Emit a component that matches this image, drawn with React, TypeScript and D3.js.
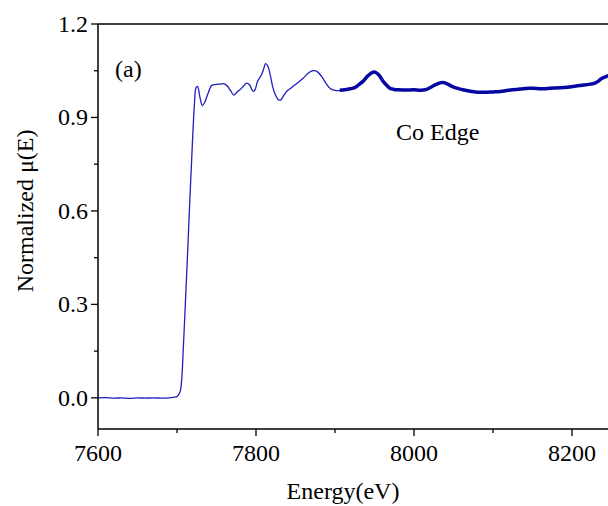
import React from "react";
import * as d3 from "d3";

const xTicks = [7600, 7800, 8000, 8200];
const xMinorTicks = [7700, 7900, 8100, 8300];
const yTicks = [0.0, 0.3, 0.6, 0.9, 1.2];
const yMinorTicks = [0.15, 0.45, 0.75, 1.05];

// thin segment (energy, normalized mu)
const thinE = [7600, 7610, 7620, 7630, 7640, 7650, 7660, 7670, 7680, 7690, 7696, 7700, 7702, 7704, 7706, 7708, 7710, 7713, 7716, 7719, 7722, 7724, 7726, 7729, 7732, 7735, 7739, 7744, 7750, 7755, 7760, 7764, 7768, 7772, 7776, 7780, 7784, 7788, 7792, 7795, 7797, 7799, 7802, 7807, 7810, 7812, 7815, 7818, 7821, 7824, 7828, 7831, 7835, 7839, 7843, 7847, 7852, 7860, 7866, 7872, 7877, 7883, 7888, 7892, 7896, 7900, 7904, 7908];
const thinMu = [0.0, 0.001, -0.001, 0.0, -0.002, 0.0, -0.001, 0.0, -0.001, 0.0, 0.002, 0.004, 0.01, 0.02, 0.06, 0.16, 0.27, 0.44, 0.62, 0.79, 0.94, 0.995, 1.0, 0.965, 0.938, 0.948, 0.975, 1.003, 1.006, 1.007, 1.008, 1.0, 0.985, 0.972, 0.982, 0.99, 1.0, 1.01, 1.004, 0.988, 0.984, 0.99, 1.016, 1.037, 1.058, 1.073, 1.065, 1.037, 1.0, 0.976, 0.958, 0.956, 0.97, 0.984, 0.992, 1.0, 1.01, 1.027, 1.042, 1.05, 1.048, 1.032, 1.012, 0.998, 0.99, 0.987, 0.986, 0.987];

// thick segment
const thickE = [7906, 7912, 7919, 7925, 7929, 7935, 7941, 7946, 7950, 7955, 7961, 7966, 7970, 7975, 7980, 7990, 8000, 8008, 8016, 8022, 8028, 8033, 8037, 8042, 8048, 8054, 8062, 8071, 8080, 8092, 8100, 8109, 8122, 8134, 8145, 8155, 8165, 8172, 8185, 8197, 8205, 8215, 8223, 8229, 8233, 8237, 8241, 8246, 8252];
const thickMu = [0.987, 0.989, 0.992, 0.996, 1.003, 1.015, 1.032, 1.043, 1.046, 1.038, 1.016, 1.002, 0.993, 0.99, 0.989, 0.988, 0.989, 0.987, 0.99, 0.998, 1.006, 1.011, 1.012, 1.008, 1.0, 0.994, 0.989, 0.984, 0.981, 0.981, 0.982, 0.983, 0.988, 0.991, 0.994, 0.993, 0.992, 0.994, 0.995, 0.998, 1.001, 1.004, 1.007, 1.01, 1.016, 1.024, 1.029, 1.034, 1.038];

const W = 608;
const H = 506;
const FONT = '"Liberation Serif", "Times New Roman", Times, serif';
const textStyle: React.CSSProperties = { fontFamily: FONT, fontSize: "24px", fill: "#000" };

export default function App() {
  const x = d3.scaleLinear().domain([7600, 8300]).range([98, 651]);
  const y = d3.scaleLinear().domain([-0.1, 1.2]).range([429, 24]);

  const mk = (es: number[], ms: number[]) =>
    d3
      .line<[number, number]>()
      .x((d) => x(d[0]))
      .y((d) => y(d[1]))
      .curve(d3.curveCatmullRom.alpha(0.5))(es.map((e, i) => [e, ms[i]] as [number, number])) || "";

  const thinPath = mk(thinE, thinMu);
  const thickPath = mk(thickE, thickMu);

  const left = x(7600);
  const bottom = y(-0.1);
  const top = y(1.2);

  return (
    <div style={{ position: "absolute", left: 0, top: 0 }}>
      <svg width={W} height={H} style={{ display: "block", background: "#fff" }}>
        <defs>
          <clipPath id="plotclip">
            <rect x={left} y={top} width={W - left} height={bottom - top} />
          </clipPath>
        </defs>
        <g clipPath="url(#plotclip)">
          <path d={thinPath} fill="none" stroke="#2020bc" strokeWidth={1.3} />
          <path d={thickPath} fill="none" stroke="#0606a2" strokeWidth={3.5} strokeLinejoin="round" />
        </g>
        {/* frame */}
        <line x1={left} x2={W} y1={top} y2={top} stroke="#000" strokeWidth={1.5} />
        <line x1={left} x2={left} y1={top} y2={bottom} stroke="#000" strokeWidth={1.5} />
        <line x1={left} x2={W} y1={bottom} y2={bottom} stroke="#000" strokeWidth={1.5} />
        {/* x ticks */}
        {xTicks.map((t) => (
          <g key={"xt" + t}>
            <line x1={x(t)} x2={x(t)} y1={bottom} y2={bottom + 7} stroke="#000" strokeWidth={1.3} />
            <text x={x(t)} y={461} textAnchor="middle" style={textStyle}>
              {t}
            </text>
          </g>
        ))}
        {xMinorTicks.map((t) => (
          <line key={"xm" + t} x1={x(t)} x2={x(t)} y1={bottom} y2={bottom + 4} stroke="#000" strokeWidth={1.3} />
        ))}
        {/* y ticks */}
        {yTicks.map((t) => (
          <g key={"yt" + t}>
            <line x1={left - 7} x2={left} y1={y(t)} y2={y(t)} stroke="#000" strokeWidth={1.3} />
            <text x={left - 10} y={y(t) + 8} textAnchor="end" style={textStyle}>
              {t.toFixed(1)}
            </text>
          </g>
        ))}
        {yMinorTicks.map((t) => (
          <line key={"ym" + t} x1={left - 4} x2={left} y1={y(t)} y2={y(t)} stroke="#000" strokeWidth={1.3} />
        ))}
        {/* axis titles */}
        <text x={343} y={499} textAnchor="middle" style={textStyle}>
          Energy(eV)
        </text>
        <text transform={`translate(33, ${y(0.6)}) rotate(-90)`} textAnchor="middle" style={textStyle}>
          Normalized μ(E)
        </text>
        {/* annotations */}
        <text x={115} y={77} style={textStyle}>
          (a)
        </text>
        <text x={396} y={140} style={textStyle}>
          Co Edge
        </text>
      </svg>
    </div>
  );
}
